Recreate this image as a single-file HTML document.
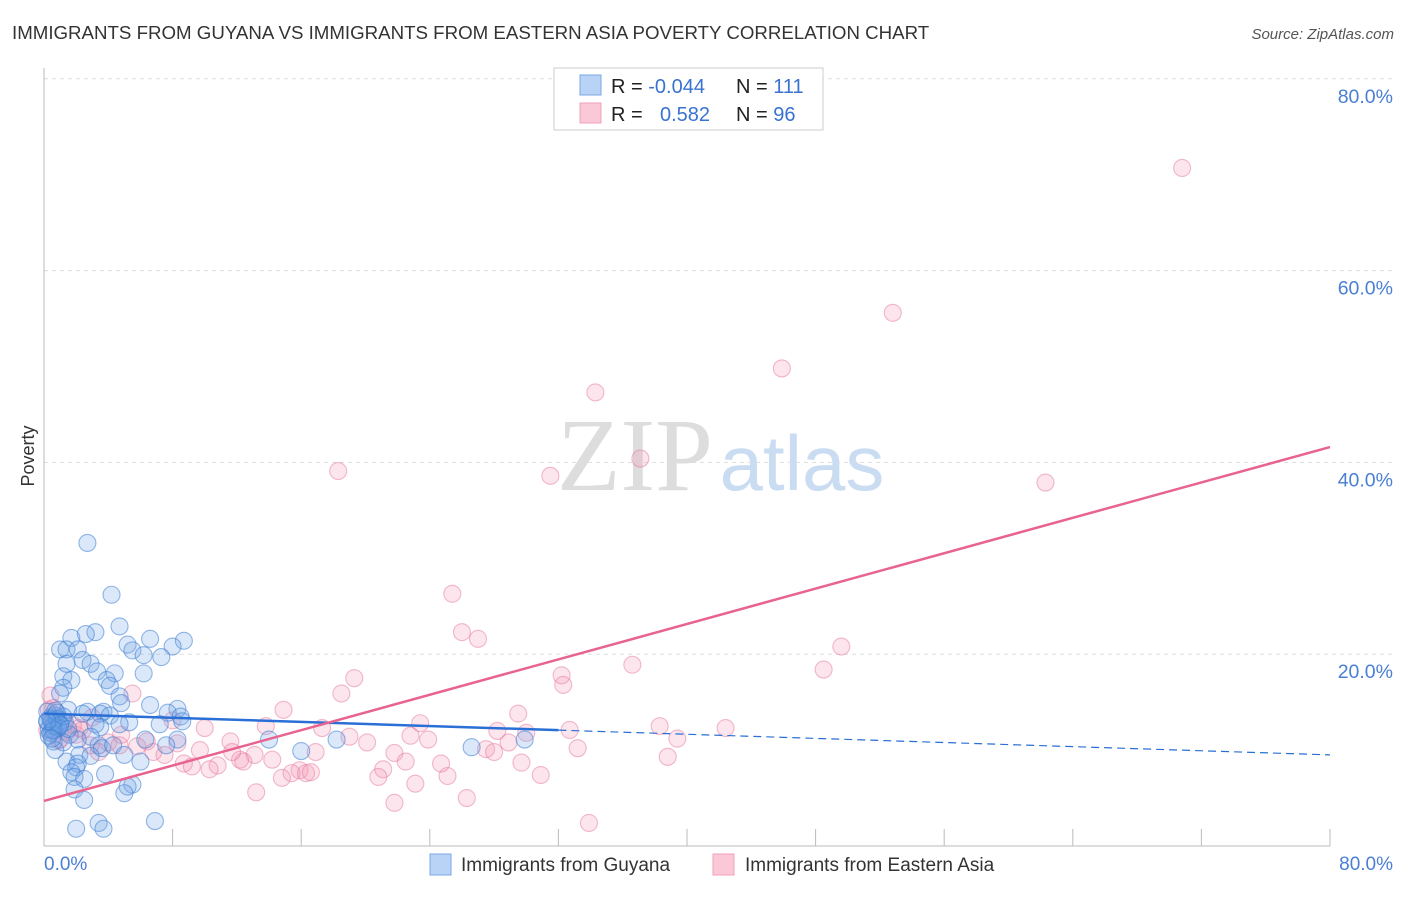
<!DOCTYPE html>
<html><head><meta charset="utf-8"><style>
body{margin:0;background:#fff;font-family:"Liberation Sans",sans-serif;}
</style></head><body>
<svg width="1406" height="892" xmlns="http://www.w3.org/2000/svg">
<text x="12" y="39" font-size="18.7" fill="#333">IMMIGRANTS FROM GUYANA VS IMMIGRANTS FROM EASTERN ASIA POVERTY CORRELATION CHART</text>
<text x="1394" y="39" font-size="15" font-style="italic" fill="#555" text-anchor="end">Source: ZipAtlas.com</text>
<g>
<text x="635" y="490" font-family="Liberation Serif,serif" font-size="104" fill="#ddd" text-anchor="middle">ZIP</text>
<text x="802" y="490" font-size="78" fill="#c9dcf2" text-anchor="middle">atlas</text>
</g>
<g id="grid"></g>
<line x1="44" y1="68" x2="44" y2="846" stroke="#bbb"/>
<line x1="44" y1="846" x2="1330" y2="846" stroke="#bbb"/>
<text x="34" y="456" font-size="18" fill="#333" transform="rotate(-90 34 456)" text-anchor="middle">Poverty</text>
<text x="44" y="870" font-size="19" fill="#4a7fd4">0.0%</text>
<text x="1393" y="870" font-size="19" fill="#4a7fd4" text-anchor="end">80.0%</text>
<g id="pts"></g>
<g id="lines"></g>
<g>
<rect x="554" y="68" width="269" height="62" fill="#fff" stroke="#ccc"/>
<rect x="580" y="75" width="21" height="20" fill="#b8d3f5" stroke="#7aa7e3"/>
<rect x="580" y="103" width="21" height="20" fill="#fbc8d8" stroke="#efa0b8"/>
<text x="611" y="93" font-size="20" fill="#222">R = <tspan fill="#3a72d0">-0.044</tspan></text>
<text x="736" y="93" font-size="20" fill="#222">N = <tspan fill="#3a72d0">111</tspan></text>
<text x="611" y="121" font-size="20" fill="#222">R = </text>
<text x="660" y="121" font-size="20" fill="#3a72d0">0.582</text>
<text x="736" y="121" font-size="20" fill="#222">N = <tspan fill="#3a72d0">96</tspan></text>
</g>
<g>
<rect x="430" y="854" width="21" height="21" fill="#b8d3f5" stroke="#7aa7e3"/>
<text x="461" y="871" font-size="19" fill="#333">Immigrants from Guyana</text>
<rect x="713" y="854" width="21" height="21" fill="#fbc8d8" stroke="#efa0b8"/>
<text x="745" y="871" font-size="19" fill="#333">Immigrants from Eastern Asia</text>
</g>
</svg>
<script>
const yTicks=[20,40,60,80];
const xTicks=[0,8,16,24,32,40,48,56,64,72,80];
const guyX=[2.7,4.2,4.7,3.2,2.6,1.7,6.6,8.7,5.2,1.0,1.4,2.1,8.0,5.5,6.2,7.3,2.4,2.9,1.4,3.3,4.4,6.2,1.2,1.7,3.9,4.1,1.2,1.0,4.7,4.8,6.6,8.3,1.5,2.7,3.7,2.4,3.5,4.1,7.7,8.5,5.3,4.7,3.2,3.5,1.6,2.9,2.1,1.2,0.6,3.4,3.6,6.3,8.3,7.6,4.3,0.7,5.0,2.2,2.9,1.4,2.1,2.0,6.0,1.7,3.8,1.9,2.5,5.5,5.2,5.0,1.9,2.5,2.0,3.4,3.7,6.9,16.0,14.0,18.2,26.6,29.9,7.2,8.6,0.2,0.4,0.6,0.8,1.0,0.3,0.5,0.7,0.9,1.1,1.3,0.2,0.4,0.6,0.8,1.0,1.2,0.3,0.5,0.7,0.9,0.4,0.6,0.8,1.0,1.5,0.2,0.5];
const guyY=[31.6,26.2,22.9,22.3,22.1,21.7,21.6,21.4,21.0,20.5,20.5,20.5,20.8,20.4,19.9,19.7,19.4,19.0,19.0,18.2,18.0,18.0,17.7,17.3,17.3,16.7,16.5,15.9,15.6,14.9,14.7,14.3,14.2,14.0,14.0,13.8,13.8,13.6,13.9,13.5,12.9,12.7,12.7,12.4,11.6,11.4,11.1,10.8,10.9,10.5,10.2,11.1,11.1,10.5,10.5,10.0,9.5,9.5,9.4,8.8,8.6,8.2,8.8,7.7,7.5,7.2,7.0,6.4,6.2,5.5,5.9,4.8,1.8,2.4,1.8,2.6,9.9,11.1,11.1,10.3,11.1,12.7,13.0,13.0,13.4,12.6,13.2,12.8,12.2,12.0,13.6,12.4,13.1,12.9,14.0,11.8,12.5,13.3,12.7,13.5,11.5,12.9,14.1,12.3,13.2,12.1,13.9,12.6,12.2,13.0,11.2];
const asiaX=[70.8,52.8,45.9,34.3,18.3,37.1,31.5,62.3,25.4,26.0,27.0,49.6,36.6,48.5,32.2,32.3,19.3,18.5,5.5,0.4,14.9,29.5,23.4,38.3,42.4,32.7,13.8,10.0,17.3,28.2,30.0,22.8,19.0,23.9,39.4,20.1,28.9,27.5,33.2,28.0,11.6,6.4,8.3,9.7,16.9,21.8,38.8,13.1,12.2,8.7,9.2,10.8,10.3,12.4,14.2,15.9,15.4,16.3,16.6,21.1,20.8,25.1,22.5,23.1,24.7,29.7,30.9,14.8,13.2,21.8,26.3,33.9,4.0,4.7,3.4,2.0,1.0,1.4,2.9,6.8,7.5,4.8,0.3,0.5,0.8,0.2,2.4,8.0,5.8,11.7,1.8,3.0,0.6,1.2,2.2,0.9];
const asiaY=[70.7,55.6,49.8,47.3,39.1,40.4,38.6,37.9,26.3,22.3,21.6,20.8,18.9,18.4,17.8,16.8,17.5,15.9,15.9,15.7,14.2,13.8,12.8,12.5,12.3,12.1,12.5,12.3,12.3,12.0,11.8,11.5,11.4,11.1,11.2,10.8,10.8,10.1,10.2,9.8,10.9,10.9,10.7,10.0,9.8,9.7,9.3,9.5,9.0,8.6,8.3,8.4,8.0,8.8,9.0,7.9,7.6,7.6,7.7,8.0,7.2,7.3,8.8,6.5,8.6,8.7,7.4,7.1,5.6,4.5,5.0,2.4,10.8,10.5,9.8,11.6,11.1,11.9,10.5,9.8,9.5,11.6,14.2,13.1,12.1,12.1,12.1,13.1,10.4,9.8,12.6,13.4,14.4,13.0,12.3,11.0];
const guyLine=[0,13.8,80,9.5], asiaLine=[0,4.7,80,41.6];
const X=v=>44+v*16.075, Y=v=>846-v*9.59;
const NS='http://www.w3.org/2000/svg';
const grid=document.getElementById('grid');
yTicks.forEach(t=>{
 const l=document.createElementNS(NS,'line');
 l.setAttribute('x1',44);l.setAttribute('x2',1393);l.setAttribute('y1',Y(t));l.setAttribute('y2',Y(t));
 l.setAttribute('stroke','#ddd');l.setAttribute('stroke-dasharray','4,4');
 
 
 grid.appendChild(l);
 const tx=document.createElementNS(NS,'text');
 tx.setAttribute('x',1393);tx.setAttribute('y',Y(t)+24);tx.setAttribute('text-anchor','end');
 tx.setAttribute('font-size','19.5');tx.setAttribute('fill','#4a7fd4');tx.textContent=t.toFixed(1)+'%';
 
 
 grid.appendChild(tx);
});
xTicks.forEach(t=>{
 const l=document.createElementNS(NS,'line');
 l.setAttribute('x1',X(t));l.setAttribute('x2',X(t));l.setAttribute('y1',829);l.setAttribute('y2',846);
 l.setAttribute('stroke','#bbb');
 
 
 grid.appendChild(l);
});
const pts=document.getElementById('pts');
function dots(xs,ys,fill,stroke,name){
 xs.forEach((x,i)=>{
  const c=document.createElementNS(NS,'circle');
  c.setAttribute('cx',X(x));c.setAttribute('cy',Y(ys[i]));c.setAttribute('r',8.5);
  c.setAttribute('fill',fill);c.setAttribute('stroke',stroke);c.setAttribute('stroke-width','1.1');
  
  
  pts.appendChild(c);
 });
}
dots(asiaX,asiaY,'rgba(245,150,180,0.25)','rgba(230,120,155,0.5)','point-eastern-asia');
dots(guyX,guyY,'rgba(110,165,230,0.25)','rgba(60,125,210,0.55)','point-guyana');
const lines=document.getElementById('lines');
function seg(x1,y1,x2,y2,col,dash,name){
 const l=document.createElementNS(NS,'line');
 l.setAttribute('x1',X(x1));l.setAttribute('y1',Y(y1));l.setAttribute('x2',X(x2));l.setAttribute('y2',Y(y2));
 l.setAttribute('stroke',col);l.setAttribute('stroke-width',dash?1.2:2.5);
 if(dash)l.setAttribute('stroke-dasharray','8,5');
 
 
 lines.appendChild(l);
}
const gy=x=>guyLine[1]+(guyLine[3]-guyLine[1])*x/80;
seg(0,gy(0),32,gy(32),'#2a6fd6',false,'trend-line-guyana');
seg(32,gy(32),80,gy(80),'#2a6fd6',true,'trend-line-guyana-extrapolated');
seg(asiaLine[0],asiaLine[1],asiaLine[2],asiaLine[3],'#e8638f',false,'trend-line-eastern-asia');
</script>
</body></html>
